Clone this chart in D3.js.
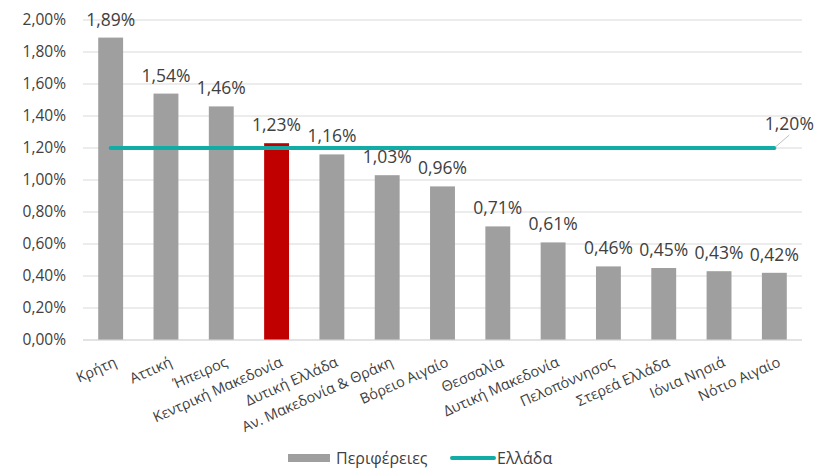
<!DOCTYPE html>
<html>
<head>
<meta charset="utf-8">
<script src="https://cdn.jsdelivr.net/npm/d3@7"></script>
<style>
  body { margin: 0; background: #fff; }
  text { font-family: "Open Sans", "Liberation Sans", sans-serif; fill: #404040; }
</style>
</head>
<body>
<div id="chart"></div>
<script>
// data
var regions = ["Κρήτη", "Αττική", "Ήπειρος", "Κεντρική Μακεδονία", "Δυτική Ελλάδα",
  "Αν. Μακεδονία & Θράκη", "Βόρειο Αιγαίο", "Θεσσαλία", "Δυτική Μακεδονία",
  "Πελοπόννησος", "Στερεά Ελλάδα", "Ιόνια Νησιά", "Νότιο Αιγαίο"];
var values = [1.89, 1.54, 1.46, 1.23, 1.16, 1.03, 0.96, 0.71, 0.61, 0.46, 0.45, 0.43, 0.42];
var greece = 1.20;
var highlight = "Κεντρική Μακεδονία";
var yTicks = [0, 0.2, 0.4, 0.6, 0.8, 1.0, 1.2, 1.4, 1.6, 1.8, 2.0];

var W = 830, H = 469;
var margin = { top: 20, right: 28, bottom: 129, left: 83 },
  width = W - margin.left - margin.right,
  height = H - margin.top - margin.bottom;

var fmt = function (v) { return v.toFixed(2).replace(".", ",") + "%"; };

var svg = d3.select("#chart").append("svg")
  .attr("width", W).attr("height", H)
  .append("g")
  .attr("transform", "translate(" + margin.left + "," + margin.top + ")");

var x = d3.scaleBand().domain(regions).range([0, width]).paddingInner(0.55).paddingOuter(0.275);
var y = d3.scaleLinear().domain([0, 2]).range([height, 0]);

// gridlines
svg.append("g")
  .selectAll("line")
  .data(yTicks)
  .enter().append("line")
  .attr("x1", 0).attr("x2", width)
  .attr("y1", function (d) { return y(d); })
  .attr("y2", function (d) { return y(d); })
  .style("stroke", "#d9d9d9").style("stroke-width", 1);

// y axis labels
svg.append("g")
  .style("font-size", "15.5px")
  .call(d3.axisLeft(y).tickValues(yTicks).tickSize(0).tickPadding(17).tickFormat(fmt))
  .call(function (g) { g.select(".domain").remove(); })
  .selectAll("text").style("fill", "#404040")
  .style("font-family", "'Open Sans', sans-serif");

// bars
svg.selectAll(".bar")
  .data(values)
  .enter().append("rect")
  .attr("x", function (d, i) { return x(regions[i]); })
  .attr("y", function (d) { return y(d); })
  .attr("width", x.bandwidth())
  .attr("height", function (d) { return height - y(d); })
  .style("fill", function (d, i) { return regions[i] === highlight ? "#c00000" : "#a09f9f"; });

// value labels
svg.selectAll(".lbl")
  .data(values)
  .enter().append("text")
  .attr("x", function (d, i) { return x(regions[i]) + x.bandwidth() / 2; })
  .attr("y", function (d) { return y(d) - 12; })
  .attr("text-anchor", "middle")
  .style("font-size", "17.5px")
  .text(fmt);

// Greece line
var x0 = x(regions[0]) + x.bandwidth() / 2,
  x1 = x(regions[regions.length - 1]) + x.bandwidth() / 2;
svg.append("line")
  .attr("x1", x0).attr("x2", x1)
  .attr("y1", y(greece)).attr("y2", y(greece))
  .style("stroke", "#12aca6").style("stroke-width", 4).style("stroke-linecap", "round");

// leader + label
svg.append("line")
  .attr("x1", x1 + 1).attr("y1", y(greece) - 1)
  .attr("x2", x1 + 15).attr("y2", y(greece) - 13)
  .style("stroke", "#bfbfbf").style("stroke-width", 1);
svg.append("text")
  .attr("x", x1 + 15).attr("y", y(greece) - 18)
  .attr("text-anchor", "middle")
  .style("font-size", "17.5px")
  .text(fmt(greece));

// axis line
svg.append("line")
  .attr("x1", 0).attr("x2", width)
  .attr("y1", height).attr("y2", height)
  .style("stroke", "#d9d9d9");

// category labels
svg.append("g")
  .selectAll("text")
  .data(regions)
  .enter().append("text")
  .attr("transform", function (d) {
    return "translate(" + (x(d) + x.bandwidth() / 2 + 5) + "," + (height + 21) + ") rotate(-24)";
  })
  .attr("text-anchor", "end")
  .attr("dy", "0.35em")
  .style("font-size", "14.5px")
  .text(function (d) { return d; });

// legend
var leg = d3.select("svg").append("g").attr("transform", "translate(0,458)");
leg.append("rect").attr("x", 288).attr("y", -4).attr("width", 42).attr("height", 8).style("fill", "#a09f9f");
leg.append("text").attr("x", 336).attr("y", 0).attr("dy", "0.35em").style("font-size", "16px").text("Περιφέρειες");
leg.append("line").attr("x1", 452).attr("x2", 494).attr("y1", 0).attr("y2", 0)
  .style("stroke", "#12aca6").style("stroke-width", 4).style("stroke-linecap", "round");
leg.append("text").attr("x", 497).attr("y", 0).attr("dy", "0.35em").style("font-size", "16px").text("Ελλάδα");
</script>
</body>
</html>
